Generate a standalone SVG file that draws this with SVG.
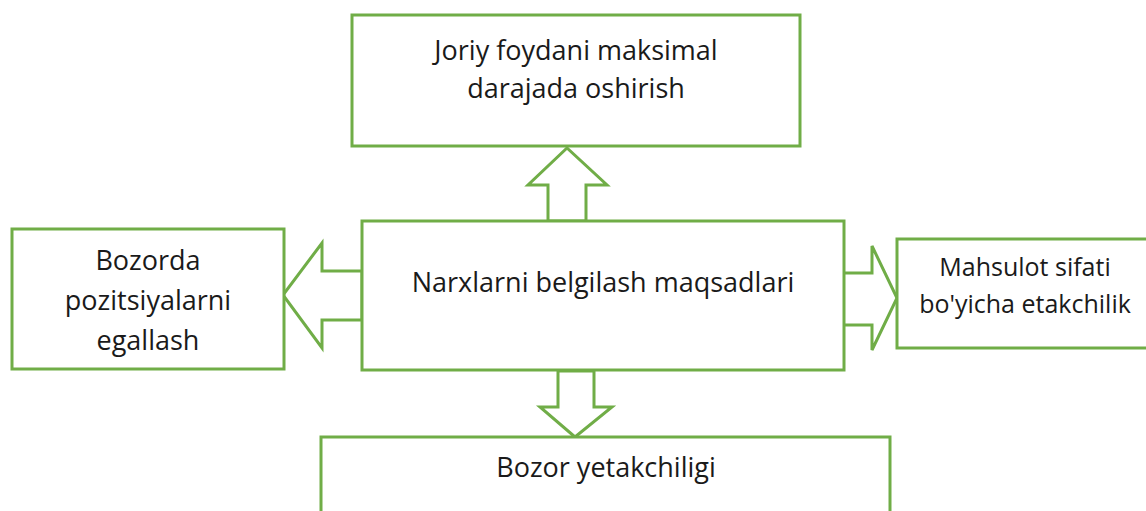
<svg xmlns="http://www.w3.org/2000/svg" width="1146" height="511" viewBox="0 0 1146 511">
<style>
.box{fill:#fff;stroke:#70AD47;stroke-width:3}
.arr{fill:#fff;stroke:#70AD47;stroke-width:3;stroke-linejoin:miter}
.t{font-family:"Open Sans","Liberation Sans",sans-serif;font-size:27px;fill:#1a1a1a;text-anchor:middle}
.ts{font-family:"Open Sans","Liberation Sans",sans-serif;font-size:25px;fill:#1a1a1a;text-anchor:middle}
</style>
<rect width="1146" height="511" fill="#fff"/>
<g id="connectors">
<polygon class="arr" points="548,221 548,185 528,185 567,148 607,185 586,185 586,221"/>
<polygon class="arr" points="558,371 558,407 540,407 575,437 612,407 594,407 594,371"/>
<polygon class="arr" points="362,271 322,271 322,243 283,295 322,348 322,320 362,320"/>
<polygon class="arr" points="843,273 872,273 872,246 897,298 872,350 872,325 843,325"/>
</g>
<g id="top">
<rect class="box" x="352" y="15" width="448" height="131"/>
<text class="t" x="576" y="60">Joriy foydani maksimal</text>
<text class="t" x="576" y="98">darajada oshirish</text>
</g>
<g id="center">
<rect class="box" x="362" y="221" width="482" height="149"/>
<text class="t" x="603" y="292">Narxlarni belgilash maqsadlari</text>
</g>
<g id="left">
<rect class="box" x="12" y="229" width="272" height="140"/>
<text class="t" x="148" y="270">Bozorda</text>
<text class="t" x="148" y="310">pozitsiyalarni</text>
<text class="t" x="148" y="350">egallash</text>
</g>
<g id="right">
<rect class="box" x="897" y="239" width="260" height="109"/>
<text class="ts" x="1025" y="276">Mahsulot sifati</text>
<text class="ts" x="1025" y="313">bo'yicha etakchilik</text>
</g>
<g id="bottom">
<rect class="box" x="321" y="437" width="569" height="90"/>
<text class="t" x="606" y="477">Bozor yetakchiligi</text>
</g>
</svg>
